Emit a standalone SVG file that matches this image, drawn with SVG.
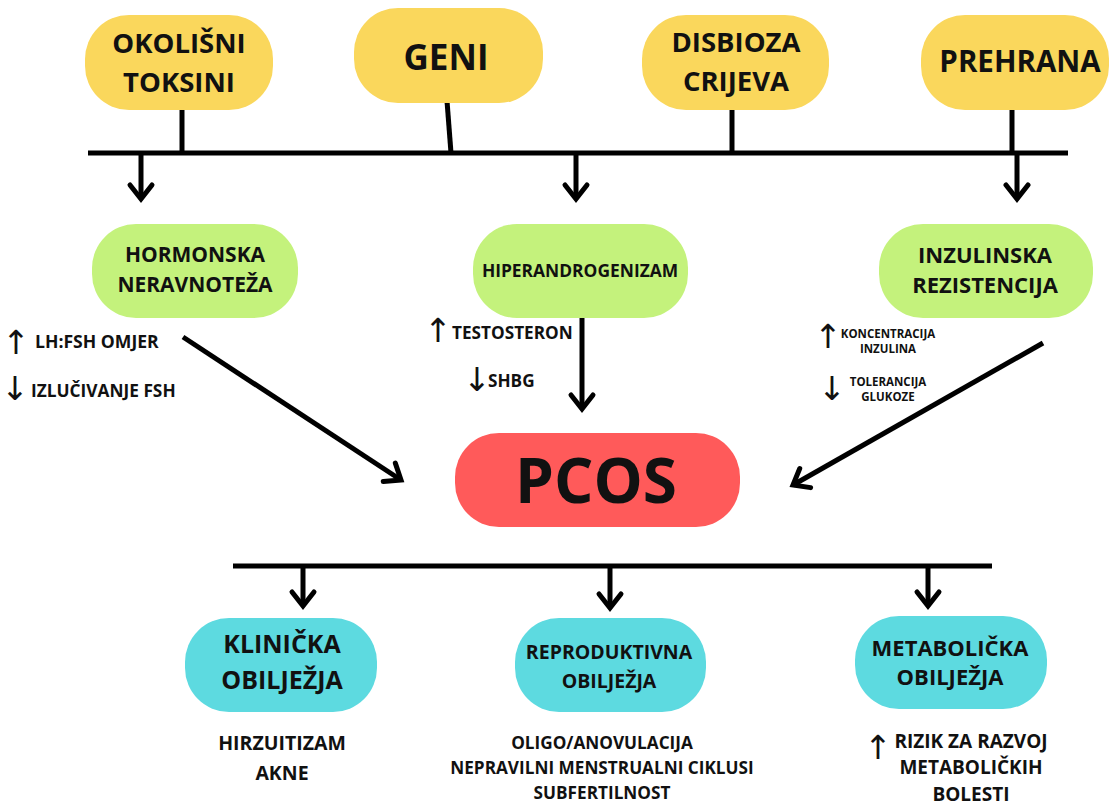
<svg xmlns="http://www.w3.org/2000/svg" width="1110" height="805" viewBox="0 0 1110 805">
<style>
.t{font-family:"Open Sans","Liberation Sans",sans-serif;font-weight:700;fill:#111;text-anchor:middle}
.l{font-family:"Open Sans","Liberation Sans",sans-serif;font-weight:700;fill:#111}
.ar{font-family:"DejaVu Sans",sans-serif;fill:#111;text-anchor:middle;font-size:33px}
.y{fill:#FAD75C}.g{fill:#C4F27C}.r{fill:#FF5A5A}.c{fill:#5DDAE0}
.cn{stroke:#000;stroke-width:5;fill:none}
</style>
<defs>
<marker id="ah" viewBox="-18 -14 24 28" refX="0" refY="0" markerWidth="24" markerHeight="28" orient="auto" markerUnits="userSpaceOnUse" overflow="visible">
<path d="M-14,-11 L0,0 L-14,11" fill="none" stroke="#000" stroke-width="5" stroke-linecap="round"/>
</marker>
</defs>
<rect width="1110" height="805" fill="#fff"/>

<g id="connectors">
<line class="cn" x1="88" y1="153" x2="1068" y2="153"/>
<line class="cn" x1="182" y1="108" x2="182" y2="153"/>
<line class="cn" x1="447" y1="101" x2="451" y2="153"/>
<line class="cn" x1="732" y1="108" x2="732" y2="153"/>
<line class="cn" x1="1012" y1="106" x2="1012" y2="153"/>
<line class="cn" x1="141" y1="153" x2="141" y2="199" marker-end="url(#ah)"/>
<line class="cn" x1="576" y1="153" x2="576" y2="199" marker-end="url(#ah)"/>
<line class="cn" x1="1017" y1="153" x2="1017" y2="199" marker-end="url(#ah)"/>
<line class="cn" x1="183" y1="337" x2="401" y2="480" marker-end="url(#ah)"/>
<line class="cn" x1="582" y1="318" x2="582" y2="409" marker-end="url(#ah)"/>
<line class="cn" x1="1043" y1="343" x2="793" y2="485" marker-end="url(#ah)"/>
<line class="cn" x1="233" y1="566" x2="992" y2="566"/>
<line class="cn" x1="303" y1="566" x2="303" y2="606" marker-end="url(#ah)"/>
<line class="cn" x1="610" y1="566" x2="610" y2="608" marker-end="url(#ah)"/>
<line class="cn" x1="928" y1="566" x2="928" y2="606" marker-end="url(#ah)"/>
</g>

<g id="okolisni-toksini">
<rect class="y" x="85" y="15" width="188" height="95" rx="44"/>
<text class="t" x="179" y="53" font-size="27.5">OKOLIŠNI</text>
<text class="t" x="179" y="92" font-size="27.5">TOKSINI</text>
</g>
<g id="geni">
<rect class="y" x="354" y="8" width="189" height="95" rx="44"/>
<text class="t" x="446" y="70" font-size="35">GENI</text>
</g>
<g id="disbioza-crijeva">
<rect class="y" x="642" y="15" width="187" height="95" rx="44"/>
<text class="t" x="736" y="52" font-size="27.5">DISBIOZA</text>
<text class="t" x="736" y="91" font-size="27.5">CRIJEVA</text>
</g>
<g id="prehrana">
<rect class="y" x="921" y="15" width="188" height="95" rx="44"/>
<text class="t" x="1020" y="72" font-size="29.5">PREHRANA</text>
</g>

<g id="hormonska-neravnoteza">
<rect class="g" x="92" y="224" width="206" height="94" rx="44"/>
<text class="t" x="195" y="262" font-size="21">HORMONSKA</text>
<text class="t" x="195" y="292" font-size="21">NERAVNOTEŽA</text>
<text class="ar" x="16" y="354">↑</text>
<text class="l" x="35" y="348" font-size="17.6">LH:FSH OMJER</text>
<text class="ar" x="15" y="400">↓</text>
<text class="l" x="31" y="397" font-size="17.3">IZLUČIVANJE FSH</text>
</g>
<g id="hiperandrogenizam">
<rect class="g" x="473" y="224" width="215" height="94" rx="44"/>
<text class="t" x="580" y="277" font-size="17.4">HIPERANDROGENIZAM</text>
<text class="ar" x="438" y="342">↑</text>
<text class="l" x="452" y="339" font-size="17.2">TESTOSTERON</text>
<text class="ar" x="477" y="391">↓</text>
<text class="l" x="488" y="387" font-size="17.2">SHBG</text>
</g>
<g id="inzulinska-rezistencija">
<rect class="g" x="879" y="224" width="214" height="94" rx="44"/>
<text class="t" x="985" y="263" font-size="22">INZULINSKA</text>
<text class="t" x="985" y="293" font-size="22">REZISTENCIJA</text>
<text class="ar" x="828" y="348">↑</text>
<text class="t" x="888" y="338" font-size="11.5">KONCENTRACIJA</text>
<text class="t" x="888" y="353" font-size="11.5">INZULINA</text>
<text class="ar" x="832" y="400">↓</text>
<text class="t" x="888" y="386" font-size="11.5">TOLERANCIJA</text>
<text class="t" x="888" y="401" font-size="11.5">GLUKOZE</text>
</g>

<g id="pcos">
<rect class="r" x="455" y="433" width="285" height="94" rx="44"/>
<text class="t" x="596" y="503" font-size="62" font-weight="800">PCOS</text>
</g>

<g id="klinicka-obiljezja">
<rect class="c" x="185" y="618" width="192" height="94" rx="44"/>
<text class="t" x="282" y="653" font-size="25">KLINIČKA</text>
<text class="t" x="282" y="689" font-size="25">OBILJEŽJA</text>
<text class="t" x="282" y="750" font-size="19.5">HIRZUITIZAM</text>
<text class="t" x="282" y="780" font-size="19.5">AKNE</text>
</g>
<g id="reproduktivna-obiljezja">
<rect class="c" x="515" y="618" width="191" height="94" rx="44"/>
<text class="t" x="609" y="659" font-size="19.5">REPRODUKTIVNA</text>
<text class="t" x="609" y="688" font-size="19.5">OBILJEŽJA</text>
<text class="t" x="602" y="749" font-size="17.2">OLIGO/ANOVULACIJA</text>
<text class="t" x="602" y="774" font-size="17.2">NEPRAVILNI MENSTRUALNI CIKLUSI</text>
<text class="t" x="602" y="799" font-size="17.2">SUBFERTILNOST</text>
</g>
<g id="metabolicka-obiljezja">
<rect class="c" x="855" y="616" width="192" height="93" rx="44"/>
<text class="t" x="950" y="656" font-size="22">METABOLIČKA</text>
<text class="t" x="950" y="685" font-size="22">OBILJEŽJA</text>
<text class="ar" x="878" y="759">↑</text>
<text class="t" x="971" y="748" font-size="19">RIZIK ZA RAZVOJ</text>
<text class="t" x="971" y="774" font-size="19">METABOLIČKIH</text>
<text class="t" x="971" y="801" font-size="19">BOLESTI</text>
</g>
</svg>
